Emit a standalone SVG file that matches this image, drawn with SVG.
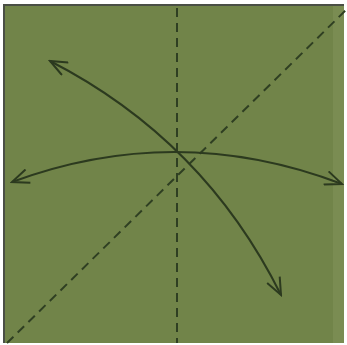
<svg xmlns="http://www.w3.org/2000/svg" width="347" height="345" viewBox="0 0 347 345">
<style>
.fold{fill:none;stroke:#2f3f22;stroke-width:2;stroke-dasharray:9 6}
.arc{fill:none;stroke:#2c3a1f;stroke-width:2}
</style>
<defs>
<marker id="v" viewBox="-18 -8 20 16" markerWidth="20" markerHeight="16" refX="0" refY="0" orient="auto-start-reverse" markerUnits="userSpaceOnUse">
<path d="M-17,-7 L0,0 L-17,7" fill="none" stroke="#2c3a1f" stroke-width="2"/>
</marker>
</defs>
<rect x="0" y="0" width="347" height="345" fill="#ffffff"/>
<g id="paper">
<rect x="4" y="5" width="340" height="338" fill="#718449"/>
<rect x="333" y="5" width="11" height="338" fill="#7a8c52"/>
<path d="M4,343 V5 H344" fill="none" stroke="#4a4f45" stroke-width="2"/>
</g>
<g id="folds">
<line class="fold" x1="177" y1="8" x2="177" y2="343"/>
<line class="fold" x1="7" y1="343" x2="346" y2="10"/>
</g>
<g id="connectors">
<path class="arc" d="M12,182 Q177,121 342,184" marker-start="url(#v)" marker-end="url(#v)"/>
<path class="arc" d="M50,61 Q204,140 281,295" marker-start="url(#v)" marker-end="url(#v)"/>
</g>
</svg>
